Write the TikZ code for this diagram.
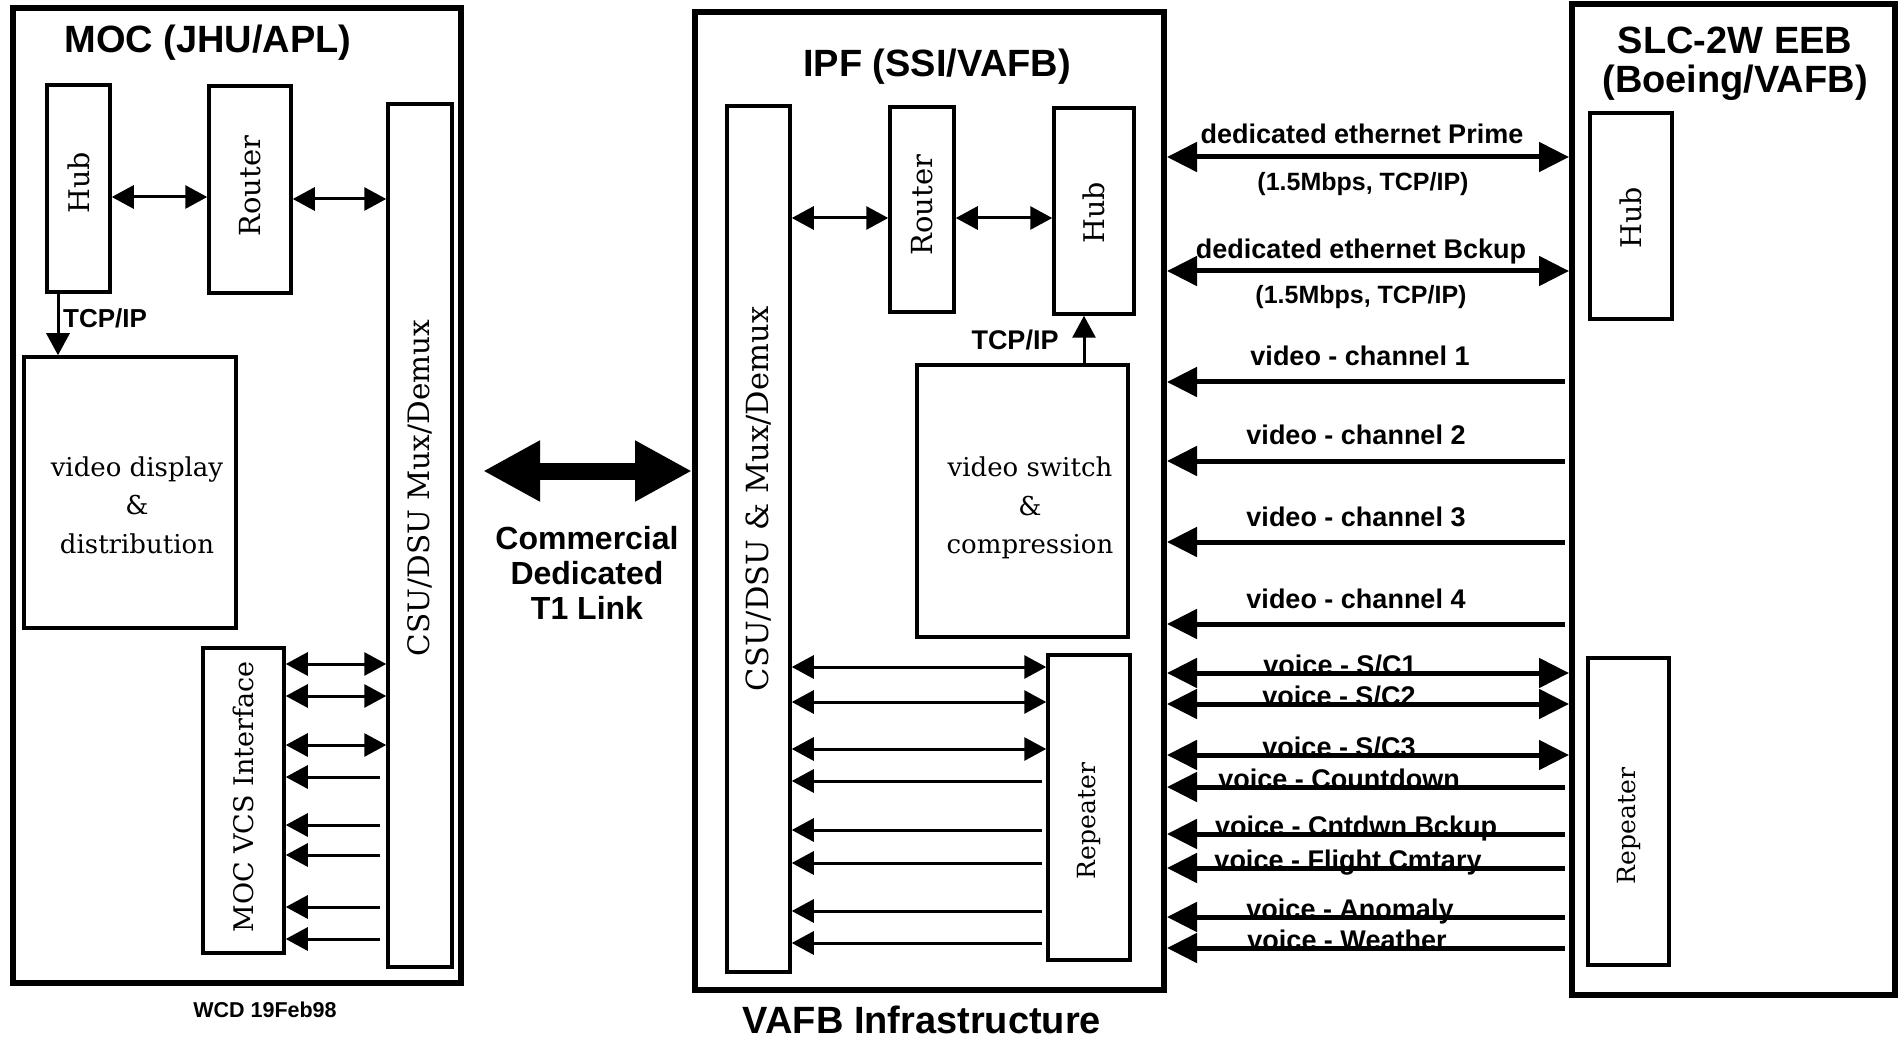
\documentclass[tikz,border=0pt]{standalone}
\usepackage{fontspec}
\setmainfont{DejaVu Serif}
\setsansfont{Liberation Sans}
\usetikzlibrary{arrows.meta}
\begin{document}
\begin{tikzpicture}[x=1pt,y=-1pt,
  frame/.style={draw, line width=6pt, inner sep=0pt},
  box/.style={draw, line width=3.5pt, inner sep=0pt},
  rl/.style={inner sep=0pt, font=\fontsize{#1}{#1}\selectfont},
  sl/.style={inner sep=0pt, anchor=base, font=\sffamily\bfseries\fontsize{#1}{#1}\selectfont},
  body/.style={inner sep=0pt, align=center, font=\fontsize{26}{38.5}\selectfont},
  sarr/.style={line width=3pt, -{Triangle[length=22pt,width=23pt]}},
  barr/.style={line width=3pt, {Triangle[length=22pt,width=23pt]}-{Triangle[length=22pt,width=23pt]}},
  rarr/.style={line width=5pt, -{Triangle[length=30pt,width=29pt]}},
  rbarr/.style={line width=5pt, {Triangle[length=30pt,width=29pt]}-{Triangle[length=30pt,width=29pt]}},
  tarr/.style={line width=17pt, {Triangle[length=57pt,width=57pt]}-{Triangle[length=57pt,width=57pt]}}
]
\useasboundingbox (0,0) rectangle (1904,1040);
\fill[white] (0,0) rectangle (1904,1040);

% ---------- frames ----------
\node[frame, minimum width=448pt, minimum height=975pt] (moc) at (237,495.5) {};
\node[frame, minimum width=469pt, minimum height=978pt] (ipf) at (929.5,501) {};
\node[frame, minimum width=323pt, minimum height=991pt] (slc) at (1733.5,499.5) {};

% ---------- titles ----------
\node[sl=38] (moct) at (208,53) {MOC (JHU/APL)};
\node[sl=38] (ipft) at (937,77) {IPF (SSI/VAFB)};
\node[sl=38] (slct1) at (1735,54) {SLC-2W EEB};
\node[sl=38] (slct2) at (1735,93) {(Boeing/VAFB)};
\node[sl=38] (vafb) at (922,1033) {VAFB Infrastructure};
\node[sl=21.5] (wcd) at (265,1017) {WCD 19Feb98};
\node[sl=32] (t1a) at (587,549) {Commercial};
\node[sl=32] (t1b) at (587,584) {Dedicated};
\node[sl=32] (t1c) at (587,619) {T1 Link};

% ---------- MOC boxes ----------
\node[box, minimum width=63pt, minimum height=207pt] (mhub) at (78.5,188.5) {};
\node[box, minimum width=82pt, minimum height=207pt] (mrouter) at (250,189.5) {};
\node[box, minimum width=64pt, minimum height=863pt] (mcsu) at (420,535.5) {};
\node[box, minimum width=212pt, minimum height=271pt] (mvid) at (130,492.5) {};
\node[box, minimum width=81pt, minimum height=305pt] (mvcs) at (243.5,800.5) {};

\node[rl=28.5] (mhubt) at (78.5,183) {\rotatebox{90}{Hub}};
\node[rl=29] (mroutert) at (250,186) {\rotatebox{90}{Router}};
\node[rl=29.5] (mcsut) at (420,488) {\rotatebox{90}{CSU/DSU Mux/Demux}};
\node[rl=27] (mvcst) at (243.5,797) {\rotatebox{90}{MOC VCS Interface}};
\node[body] (mvidt) at (137,505) {video display\\\&\\distribution};

% ---------- IPF boxes ----------
\node[box, minimum width=63pt, minimum height=866pt] (icsu) at (758.5,539) {};
\node[box, minimum width=64pt, minimum height=205pt] (irouter) at (922,209.5) {};
\node[box, minimum width=80pt, minimum height=206pt] (ihub) at (1094,211) {};
\node[box, minimum width=211pt, minimum height=272pt] (isw) at (1022.5,501) {};
\node[box, minimum width=82pt, minimum height=305pt] (irep) at (1089,807.5) {};

\node[rl=30.5] (icsut) at (758.5,499) {\rotatebox{90}{CSU/DSU \& Mux/Demux}};
\node[rl=29] (iroutert) at (922,205) {\rotatebox{90}{Router}};
\node[rl=28.5] (ihubt) at (1094,213) {\rotatebox{90}{Hub}};
\node[rl=25] (irept) at (1089,821) {\rotatebox{90}{Repeater}};
\node[body] (iswt) at (1030,508) {video switch\\\&\\compression};

% ---------- SLC boxes ----------
\node[box, minimum width=82pt, minimum height=206pt] (shub) at (1631,216) {};
\node[box, minimum width=81pt, minimum height=307pt] (srep) at (1628.5,811.5) {};
\node[rl=28.5] (shubt) at (1631,218) {\rotatebox{90}{Hub}};
\node[rl=25] (srept) at (1628.5,826) {\rotatebox{90}{Repeater}};

% ---------- helper coordinates ----------
\coordinate (X58) at (58,0);
\coordinate (X1084) at (1084,0);
\coordinate (Y197) at (0,197);
\coordinate (Y199) at (0,199);
\coordinate (Y218) at (0,218);
\coordinate (Y471) at (0,471);

% ---------- MOC connectors ----------
\draw[barr] (mhub.east |- Y197) -- (mrouter.west |- Y197);
\draw[barr] (mrouter.east |- Y199) -- (mcsu.west |- Y199);
\draw[sarr] (mhub.south -| X58) -- (mvid.north -| X58);
\node[sl=26, anchor=base west] (mtcp) at (63,328) {TCP/IP};
\foreach \yy in {664,696,745} {
  \coordinate (t) at (0,\yy);
  \draw[barr] (mvcs.east |- t) -- (mcsu.west |- t);
}
\foreach \yy in {777,825,855,907,939} {
  \coordinate (t) at (0,\yy);
  \draw[sarr, shorten <=6pt] (mcsu.west |- t) -- (mvcs.east |- t);
}

% ---------- T1 link ----------
\draw[tarr, shorten <=19pt] (moc.east |- Y471) -- (ipf.west |- Y471);

% ---------- IPF connectors ----------
\draw[barr] (icsu.east |- Y218) -- (irouter.west |- Y218);
\draw[barr] (irouter.east |- Y218) -- (ihub.west |- Y218);
\draw[sarr] (isw.north -| X1084) -- (ihub.south -| X1084);
\node[sl=27] (itcp) at (1015,350) {TCP/IP};
\foreach \yy in {667,702,749} {
  \coordinate (t) at (0,\yy);
  \draw[barr] (icsu.east |- t) -- (irep.west |- t);
}
\foreach \yy in {781,830,863,911,943} {
  \coordinate (t) at (0,\yy);
  \draw[sarr, shorten <=4pt] (irep.west |- t) -- (icsu.east |- t);
}

% ---------- inter-site labels ----------
\node[sl=27] (e1) at (1362,144) {dedicated ethernet Prime};
\node[sl=25] (e1s) at (1363,191) {(1.5Mbps, TCP/IP)};
\node[sl=27] (e2) at (1361,259) {dedicated ethernet Bckup};
\node[sl=25] (e2s) at (1361,304) {(1.5Mbps, TCP/IP)};
\node[sl=27] (v1) at (1360,366) {video - channel 1};
\node[sl=27] (v2) at (1356,445) {video - channel 2};
\node[sl=27] (v3) at (1356,526) {video - channel 3};
\node[sl=27] (v4) at (1356,608) {video - channel 4};
\node[sl=27] (c1) at (1340,674) {voice - S/C1};
\node[sl=27] (c2) at (1339,705) {voice - S/C2};
\node[sl=27] (c3) at (1339,756) {voice - S/C3};
\node[sl=27] (c4) at (1339,788) {voice - Countdown};
\node[sl=27] (c5) at (1356,835) {voice - Cntdwn Bckup};
\node[sl=27] (c6) at (1348,869) {voice - Flight Cmtary};
\node[sl=27] (c7) at (1350,918) {voice - Anomaly};
\node[sl=27] (c8) at (1347,949) {voice - Weather};

% ---------- inter-site connectors ----------
\foreach \yy in {157,271,673,704,755} {
  \coordinate (t) at (0,\yy);
  \draw[rbarr] (ipf.east |- t) -- (slc.west |- t);
}
\foreach \yy in {382,461,542,624,787,834,868,917,948} {
  \coordinate (t) at (0,\yy);
  \draw[rarr, shorten <=4pt] (slc.west |- t) -- (ipf.east |- t);
}
\end{tikzpicture}
\end{document}
